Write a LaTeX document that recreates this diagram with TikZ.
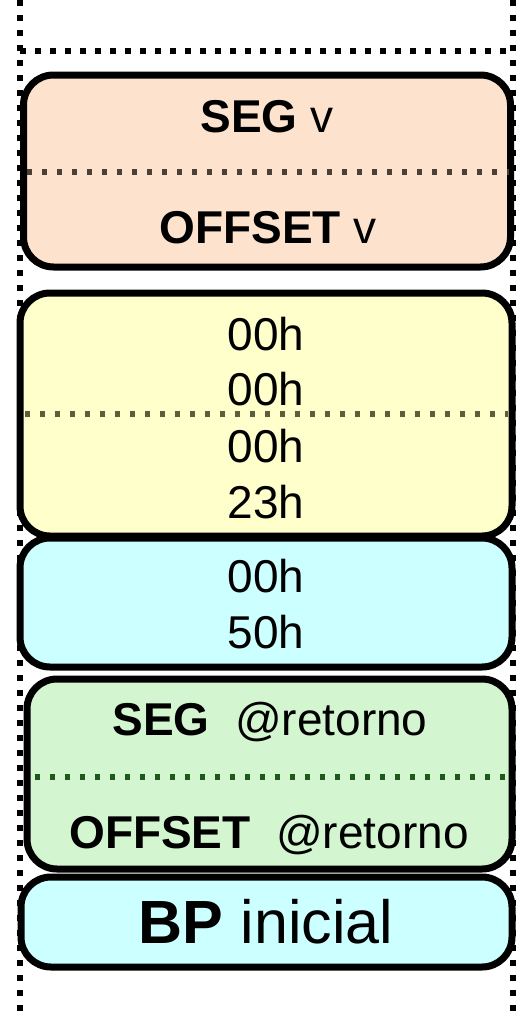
\documentclass[tikz,border=0pt]{standalone}
\usepackage{fontspec}
\setmainfont{Liberation Sans}
\begin{document}
\begin{tikzpicture}[x=1pt,y=-1pt,
  frame/.style={line width=6pt,dash pattern=on 6pt off 9pt},
  cell/.style={line width=7pt,rounded corners=30pt},
  divider/.style={line width=5.5pt,dash pattern=on 5pt off 10pt},
  txt/.style={anchor=base,inner sep=0pt,font=\fontsize{46}{55}\selectfont},
  big/.style={anchor=base,inner sep=0pt,font=\fontsize{61}{73}\selectfont}]
\definecolor{peach}{HTML}{FDE3CE}
\definecolor{paley}{HTML}{FFFFCC}
\definecolor{palec}{HTML}{CCFFFF}
\definecolor{paleg}{HTML}{D3F5D0}
\definecolor{divo}{HTML}{4A4036}
\definecolor{divy}{HTML}{5E5E3A}
\definecolor{divg}{HTML}{1E5A1E}
\useasboundingbox (0,0) rectangle (528,1017);
% frame
\coordinate (fl0) at (20,0); \coordinate (fl1) at (20,1017);
\coordinate (fr0) at (513,0); \coordinate (fr1) at (513,1017);
\coordinate (ft0) at (20,51); \coordinate (ft1) at (513,51);
\draw[frame] (fl0) -- (fl1);
\draw[frame] (fr0) -- (fr1);
\draw[frame] (ft0) -- (ft1);
% box 1
\draw[cell,fill=peach] (23.5,75) rectangle (510.5,267);
\coordinate (d1a) at (27,172); \coordinate (d1b) at (509,172);
\draw[divider,divo] (d1a) -- (d1b);
\node[txt] (seg1) at (267,132) {\textbf{SEG} v};
\node[txt] (off1) at (268,243) {\textbf{OFFSET} v};
% box 2
\draw[cell,fill=paley] (20,293) rectangle (512,536);
\coordinate (d2a) at (25,414); \coordinate (d2b) at (508,414);
\draw[divider,divy] (d2a) -- (d2b);
\node[txt] (y1) at (266,350) {00h};
\node[txt] (y2) at (266,405) {00h};
\node[txt] (y3) at (266,462) {00h};
\node[txt] (y4) at (266,518) {23h};
% box 3
\draw[cell,fill=palec] (20,538) rectangle (512,667);
\node[txt] (c1) at (266,592) {00h};
\node[txt] (c2) at (266,648) {50h};
% box 4
\draw[cell,fill=paleg] (27,679) rectangle (512,869);
\coordinate (d4a) at (35,777); \coordinate (d4b) at (509,777);
\draw[divider,divg] (d4a) -- (d4b);
\node[txt] (seg4) at (270,735) {\textbf{SEG}\ \ @retorno};
\node[txt] (off4) at (269,848) {\textbf{OFFSET}\ \ @retorno};
% box 5
\draw[cell,fill=palec] (21,877) rectangle (512,967);
\node[big] (bp) at (266,943) {\textbf{BP} inicial};
\end{tikzpicture}
\end{document}
